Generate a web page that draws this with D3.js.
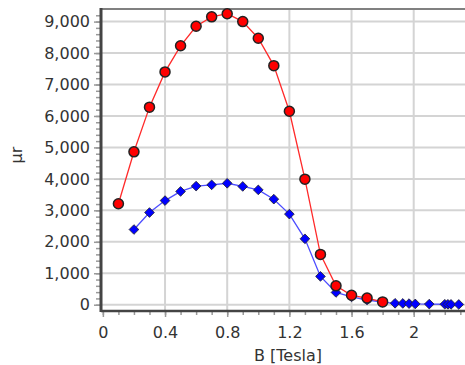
<!DOCTYPE html>
<html>
<head>
<meta charset="utf-8">
<script src="https://cdn.jsdelivr.net/npm/d3@7"></script>
<style>
  body { margin: 0; background: #fff; }
  text { font-family: "DejaVu Sans", Verdana, sans-serif; }
</style>
</head>
<body>
<div id="chart"></div>
<script>
// B values (Tesla) and permeability values
const redB = [0.1, 0.2, 0.3, 0.4, 0.5, 0.6, 0.7, 0.8, 0.9, 1.0, 1.1, 1.2, 1.3, 1.4, 1.5, 1.6, 1.7, 1.8];
const redMu = [3210, 4860, 6280, 7400, 8230, 8850, 9150, 9250, 9000, 8470, 7600, 6150, 3990, 1600, 600, 300, 210, 90];

const blueB = [0.2, 0.3, 0.4, 0.5, 0.6, 0.7, 0.8, 0.9, 1.0, 1.1, 1.2, 1.3, 1.4, 1.5, 1.6, 1.7, 1.8, 1.88, 1.93, 1.97, 2.01, 2.1, 2.2, 2.22, 2.24, 2.29];
const blueMu = [2390, 2930, 3310, 3600, 3770, 3810, 3860, 3760, 3650, 3355, 2880, 2095, 900, 390, 250, 150, 80, 45, 40, 35, 25, 20, 15, 12, 10, 8];

const xTicks = [0, 0.4, 0.8, 1.2, 1.6, 2];
const yTicks = [0, 1000, 2000, 3000, 4000, 5000, 6000, 7000, 8000, 9000];

const W = 465, H = 365;
const pLeft = 101, pRight = 465, pTop = 9, pBottom = 311;

const svg = d3.select('#chart').append('svg')
    .attr('width', W)
    .attr('height', H);

const x = d3.scaleLinear().domain([-0.012, 2.33]).range([pLeft, pRight]);
const y = d3.scaleLinear().domain([-200, 9400]).range([pBottom, pTop]);

//grid
svg.append('g').selectAll('line')
    .data(xTicks.filter(d => d > 0))
    .enter().append('line')
    .attr('x1', d => x(d)).attr('x2', d => x(d))
    .attr('y1', pTop).attr('y2', pBottom)
    .attr('stroke', '#d4d4d4').attr('stroke-width', 2);

svg.append('g').selectAll('line')
    .data(yTicks)
    .enter().append('line')
    .attr('x1', pLeft).attr('x2', pRight)
    .attr('y1', d => y(d)).attr('y2', d => y(d))
    .attr('stroke', '#d4d4d4').attr('stroke-width', 2);

//top border
svg.append('line')
    .attr('x1', pLeft).attr('x2', pRight)
    .attr('y1', pTop).attr('y2', pTop)
    .attr('stroke', '#808080').attr('stroke-width', 2);

//minor ticks
const xMinor = d3.range(0, 2.35, 0.1);
const yMinor = d3.range(0, 9400, 200);

const xAxisG = svg.append('g')
    .attr('transform', `translate(0,${pBottom})`)
    .call(d3.axisBottom(x).tickValues(xMinor).tickSize(4).tickFormat(''));
xAxisG.select('.domain').remove();
xAxisG.selectAll('line').attr('stroke', '#999').attr('stroke-width', 1.5);

const xMajor = svg.append('g')
    .attr('transform', `translate(0,${pBottom})`)
    .call(d3.axisBottom(x).tickValues(xTicks).tickSize(6).tickPadding(10).tickFormat(d3.format('')));
xMajor.select('.domain').remove();
xMajor.selectAll('line').attr('stroke', '#999').attr('stroke-width', 1.5);
xMajor.selectAll('text')
    .attr('font-size', 16)
    .attr('fill', '#333');

const yAxisG = svg.append('g')
    .attr('transform', `translate(${pLeft},0)`)
    .call(d3.axisLeft(y).tickValues(yMinor).tickSize(5).tickFormat(''));
yAxisG.select('.domain').remove();
yAxisG.selectAll('line').attr('stroke', '#999').attr('stroke-width', 1.5);

const yMajor = svg.append('g')
    .attr('transform', `translate(${pLeft},0)`)
    .call(d3.axisLeft(y).tickValues(yTicks).tickSize(7).tickPadding(4).tickFormat(d3.format(',')));
yMajor.select('.domain').remove();
yMajor.selectAll('line').attr('stroke', '#999').attr('stroke-width', 1.5);
yMajor.selectAll('text')
    .attr('font-size', 16)
    .attr('fill', '#333');

//axis lines
svg.append('line')
    .attr('x1', pLeft).attr('x2', pLeft)
    .attr('y1', pTop - 1).attr('y2', pBottom + 1)
    .attr('stroke', '#444').attr('stroke-width', 3);
svg.append('line')
    .attr('x1', pLeft).attr('x2', pRight)
    .attr('y1', pBottom).attr('y2', pBottom)
    .attr('stroke', '#444').attr('stroke-width', 2.5);

//labels
svg.append('text')
    .attr('x', 288).attr('y', 361)
    .attr('text-anchor', 'middle')
    .attr('font-size', 16)
    .attr('fill', '#333')
    .text('B [Tesla]');

svg.append('text')
    .attr('transform', 'translate(22,155) rotate(-90)')
    .attr('text-anchor', 'middle')
    .attr('font-size', 16)
    .attr('fill', '#333')
    .text('μr');

//series
const blueData = blueB.map((b, i) => ({b: b, mu: blueMu[i]}));
const redData = redB.map((b, i) => ({b: b, mu: redMu[i]}));

const line = d3.line().x(d => x(d.b)).y(d => y(d.mu));

svg.append('path')
    .datum(blueData)
    .attr('fill', 'none')
    .attr('stroke', '#4d4dff')
    .attr('stroke-width', 1.3)
    .attr('d', line);

svg.selectAll('path.dia')
    .data(blueData)
    .enter().append('path')
    .attr('class', 'dia')
    .attr('d', d3.symbol().type(d3.symbolDiamond2).size(60))
    .attr('transform', d => `translate(${x(d.b)},${y(d.mu)})`)
    .attr('fill', '#0000ff')
    .attr('stroke', '#222')
    .attr('stroke-width', 0.8);

svg.append('path')
    .datum(redData)
    .attr('fill', 'none')
    .attr('stroke', '#ff2a2a')
    .attr('stroke-width', 1.3)
    .attr('d', line);

svg.selectAll('circle.red')
    .data(redData)
    .enter().append('circle')
    .attr('class', 'red')
    .attr('cx', d => x(d.b))
    .attr('cy', d => y(d.mu))
    .attr('r', 5)
    .attr('fill', '#ff0000')
    .attr('stroke', '#222')
    .attr('stroke-width', 1.5);
</script>
</body>
</html>
